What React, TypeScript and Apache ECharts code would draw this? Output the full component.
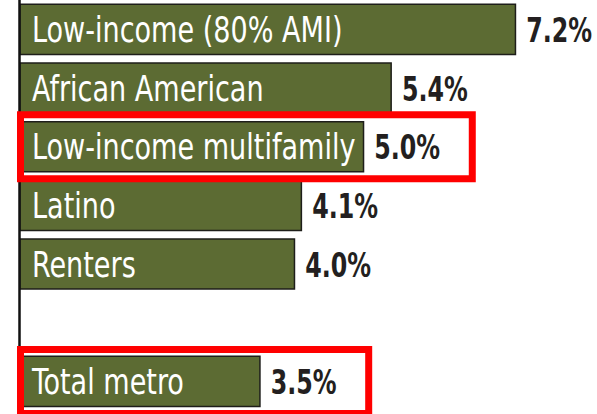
import React, { useEffect, useRef } from "react";
import * as echarts from "echarts";

const categories = [
  "Low-income (80% AMI)",
  "African American",
  "Low-income multifamily",
  "Latino",
  "Renters",
  "",
  "Total metro",
];
const values: (number | null)[] = [7.2, 5.4, 5.0, 4.1, 4.0, null, 3.5];
const highlighted = ["Low-income multifamily", "Total metro"];

const NARROW = "'Liberation Sans Narrow', 'DejaVu Sans Condensed', 'Roboto', sans-serif";

export default function App() {
  const ref = useRef<HTMLDivElement>(null);
  useEffect(() => {
    if (!ref.current) return;
    const chart = echarts.init(ref.current, undefined, { renderer: "svg" });
    const data = values.map((v) => (v === null ? "-" : v));
    chart.setOption({
      animation: false,
      grid: { left: 19, right: 0, top: -5.75, height: 416.5, containLabel: false },
      xAxis: {
        type: "value",
        min: 0,
        max: 8.37,
        show: false,
      },
      yAxis: {
        type: "category",
        data: categories,
        inverse: true,
        z: 5,
        axisLine: { show: true, lineStyle: { color: "#111", width: 2.5 } },
        axisTick: { show: false },
        axisLabel: { show: false },
        splitLine: { show: false },
      },
      series: [
        {
          type: "bar",
          data,
          barCategoryGap: "12%",
          itemStyle: { color: "#5c6b33", borderColor: "#1e1e1a", borderWidth: 1.5 },
        },
      ],
    });

    const gridLeft = chart.convertToPixel({ xAxisIndex: 0 }, 0) as number;
    const graphics: any[] = [];
    categories.forEach((name, i) => {
      const v = values[i];
      if (v === null) return;
      const yc = chart.convertToPixel({ yAxisIndex: 0 }, name) as number;
      const xBar = chart.convertToPixel({ xAxisIndex: 0 }, v) as number;
      graphics.push({
        type: "text",
        z: 20,
        x: gridLeft + 13,
        y: yc + 1,
        scaleX: 0.86,
        style: {
          text: name,
          fill: "#ffffff",
          font: `35px ${NARROW}`,
          textVerticalAlign: "middle",
          textAlign: "left",
        },
      });
      graphics.push({
        type: "text",
        z: 20,
        x: xBar + 10,
        y: yc + 1,
        scaleX: 0.8,
        style: {
          text: `${v.toFixed(1)}%`,
          fill: "#231f20",
          font: `bold 33px ${NARROW}`,
          textVerticalAlign: "middle",
          textAlign: "left",
        },
      });
      if (highlighted.indexOf(name) >= 0) {
        const x0 = gridLeft + 1.5;
        const xEnd = xBar + 108;
        graphics.push({
          type: "rect",
          z: 10,
          shape: { x: x0, y: yc - 32, width: xEnd - x0, height: 64 },
          style: { fill: "none", stroke: "#ff0000", lineWidth: 7 },
        });
      }
    });
    chart.setOption({ graphic: graphics });

    return () => chart.dispose();
  }, []);
  return (
    <div
      ref={ref}
      style={{ position: "absolute", left: 0, top: 0, width: 597, height: 414 }}
    />
  );
}
